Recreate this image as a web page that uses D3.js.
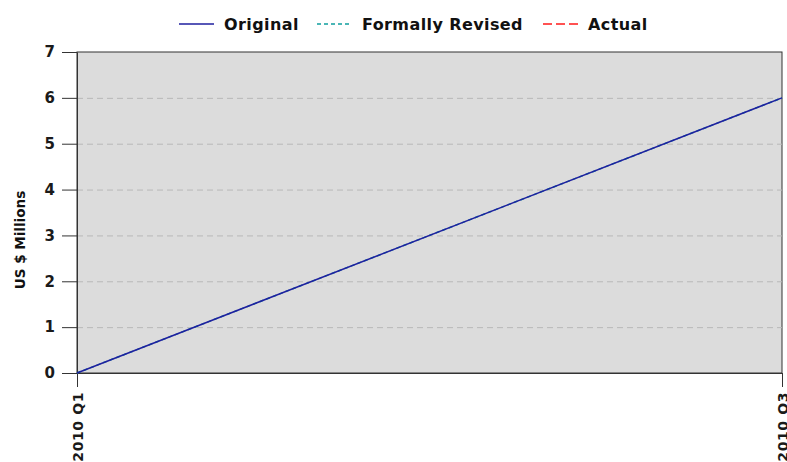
<!DOCTYPE html>
<html>
<head>
<meta charset="utf-8">
<script src="https://cdn.jsdelivr.net/npm/d3@7"></script>
<style>
body { margin: 0; background: #fff; }
text { font-family: "DejaVu Sans", sans-serif; font-weight: bold; }
</style>
</head>
<body>
<script>
var w = 787, h = 462;
var quarters = ["2010 Q1", "2010 Q3"];
var original = [0, 6];
var formallyRevised = [0, 6];
var actual = [];
var yTicks = [0, 1, 2, 3, 4, 5, 6, 7];
var seriesNames = ["Original", "Formally Revised", "Actual"];
var seriesColors = ["#1f1f9f", "#0f9f9f", "#ff1a1a"];

var margin = {left: 77, right: 5, top: 52, bottom: 89};

var svg = d3.select("body").append("svg")
    .attr("width", w).attr("height", h);

var x = d3.scalePoint().domain(quarters).range([margin.left, w - margin.right]);
var y = d3.scaleLinear().domain([0, 7]).range([h - margin.bottom, margin.top]);

// plot background
svg.append("rect")
    .attr("x", margin.left).attr("y", margin.top)
    .attr("width", w - margin.right - margin.left)
    .attr("height", h - margin.bottom - margin.top)
    .attr("fill", "#dcdcdc")
    .attr("stroke", "#333").attr("stroke-width", 1);

// gridlines
svg.selectAll("line.grid")
    .data(yTicks.filter(function(d){ return d > 0 && d < 7; }))
    .enter().append("line")
    .attr("class", "grid")
    .attr("x1", margin.left).attr("x2", w - margin.right)
    .attr("y1", function(d){ return y(d) + 0.5; })
    .attr("y2", function(d){ return y(d) + 0.5; })
    .attr("stroke", "#b8b8b8")
    .attr("stroke-dasharray", "6,4");

// axes
var yAxis = svg.append("g")
    .attr("transform", "translate(" + margin.left + ",0)")
    .call(d3.axisLeft(y).tickValues(yTicks).tickFormat(d3.format("d"))
        .tickSize(15).tickPadding(7).tickSizeOuter(0));
yAxis.selectAll("text").attr("font-size", "15px").attr("fill", "#1a1a1a")
    .style("font-family", "DejaVu Sans").style("font-weight", "bold");
yAxis.select(".domain").attr("stroke", "#333");
yAxis.selectAll(".tick line").attr("stroke", "#333");

var xAxis = svg.append("g")
    .attr("transform", "translate(0," + (h - margin.bottom) + ")")
    .call(d3.axisBottom(x).tickSize(14).tickSizeOuter(0));
xAxis.select(".domain").attr("stroke", "#333");
xAxis.selectAll(".tick line").attr("stroke", "#333");
xAxis.selectAll("text")
    .attr("transform", "rotate(-90)")
    .attr("x", -19).attr("y", 0).attr("dy", "0.36em")
    .attr("text-anchor", "end")
    .attr("font-size", "14px").attr("fill", "#1a1a1a")
    .attr("letter-spacing", "0.6px")
    .style("font-family", "DejaVu Sans").style("font-weight", "bold");

// y label
svg.append("text")
    .attr("transform", "translate(25,240) rotate(-90)")
    .attr("text-anchor", "middle")
    .attr("font-size", "13.5px")
    .attr("fill", "#111")
    .text("US $ Millions");

// lines
var line = d3.line()
    .x(function(d, i){ return x(quarters[i]); })
    .y(function(d){ return y(d); });

svg.append("path").datum(formallyRevised)
    .attr("d", line).attr("fill", "none")
    .attr("stroke", seriesColors[1]).attr("stroke-width", 1.5)
    .attr("stroke-dasharray", "4,3");
svg.append("path").datum(original)
    .attr("d", line).attr("fill", "none")
    .attr("stroke", seriesColors[0]).attr("stroke-width", 1.5);

// legend
var legendX = [179, 317, 543];
var dashes = [null, "4,3", "9,4"];
var lg = svg.selectAll("g.legend")
    .data(seriesNames).enter().append("g")
    .attr("class", "legend")
    .attr("transform", function(d, i){ return "translate(" + legendX[i] + ",24)"; });
lg.append("line")
    .attr("x1", 0).attr("x2", 35).attr("y1", 0).attr("y2", 0)
    .attr("stroke", function(d, i){ return seriesColors[i]; })
    .attr("stroke-width", 1.5)
    .attr("stroke-dasharray", function(d, i){ return dashes[i]; });
lg.append("text")
    .attr("x", 45).attr("y", 0).attr("dy", "0.36em")
    .attr("font-size", "16px").attr("fill", "#111")
    .attr("letter-spacing", "0.4px")
    .text(function(d){ return d; });
</script>
</body>
</html>
